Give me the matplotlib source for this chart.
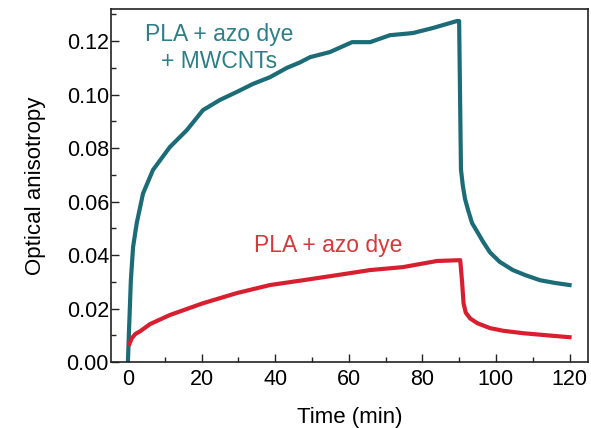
import matplotlib
matplotlib.use("Agg")
import matplotlib.pyplot as plt
from matplotlib.ticker import MultipleLocator

plt.rcParams['font.family'] = ['Liberation Sans', 'DejaVu Sans']

# Data
teal_t = [0, 0.3, 0.8, 1.4, 2.4, 4.1, 6.8, 11.4, 16, 20.4, 25, 29.6, 34, 38.6,
          43.2, 46.7, 49.5, 54.9, 60.9, 65.8, 71.2, 77.4, 82.9, 89.4, 90.0,
          90.5, 91.0, 91.6, 92.4, 93.5, 94.8, 96.5, 98.4, 101, 104.6, 108,
          112, 116, 120]
teal_y = [0, 0.012, 0.0306, 0.043, 0.052, 0.063, 0.0718, 0.0804, 0.0867,
          0.0942, 0.098, 0.101, 0.104, 0.1065, 0.110, 0.112, 0.114, 0.1159,
          0.1196, 0.1196, 0.1222, 0.1230, 0.1249, 0.1275, 0.1275, 0.072,
          0.066, 0.061, 0.057, 0.052, 0.049, 0.045, 0.041, 0.0375, 0.0344,
          0.0325, 0.0306, 0.0296, 0.0288]

red_t = [0.4, 1.1, 2, 3.3, 6, 11.4, 20.4, 29.6, 38.6, 47.6, 56.8, 65.8, 74.7,
         84, 90.3, 90.8, 91.2, 91.8, 93, 95, 98.4, 102, 107.4, 114, 120]
red_y = [0.0068, 0.0090, 0.0105, 0.0115, 0.0142, 0.0176, 0.022, 0.0258,
         0.0288, 0.0306, 0.0325, 0.0344, 0.0355, 0.0378, 0.0381, 0.030,
         0.022, 0.0185, 0.0163, 0.0145, 0.0127, 0.0117, 0.0108, 0.0100,
         0.0093]

x_ticks = [0, 20, 40, 60, 80, 100, 120]
y_ticks = [0.00, 0.02, 0.04, 0.06, 0.08, 0.10, 0.12]

teal = '#1b6c76'
red = '#d81f30'

fig = plt.figure(figsize=(5.91, 4.28), dpi=100)
ax = fig.add_axes([0.1878, 0.154, 0.807, 0.825])

ax.plot(teal_t, teal_y, color=teal, lw=3.0, solid_joinstyle='round')
ax.plot(red_t, red_y, color=red, lw=3.0, solid_joinstyle='round')

ax.set_xlim(-4.6, 125)
ax.set_ylim(0, 0.132)
ax.set_xticks(x_ticks)
ax.set_yticks(y_ticks)
ax.set_yticklabels([f"{v:.2f}" for v in y_ticks])
ax.xaxis.set_minor_locator(MultipleLocator(10))
ax.yaxis.set_minor_locator(MultipleLocator(0.01))
ax.tick_params(which='both', direction='in', top=False, right=False,
               labelsize=15.5, width=1.0, color='#222222')
ax.tick_params(axis='y', which='major', pad=1.5)
ax.tick_params(axis='x', which='major', pad=5)
ax.tick_params(which='major', length=6)
ax.tick_params(which='minor', length=3.5)
for s in ax.spines.values():
    s.set_linewidth(1.2)
    s.set_color('#222222')

ax.set_xlabel('Time (min)', fontsize=16, labelpad=12)
ax.set_ylabel('Optical anisotropy', fontsize=16, labelpad=15)

ax.text(24.7, 0.1175, 'PLA + azo dye\n+ MWCNTs', color='#2c7f86', fontsize=16.5,
        ha='center', va='center', linespacing=1.2)
ax.text(54.3, 0.0434, 'PLA + azo dye', color='#d23a3c', fontsize=16.5,
        ha='center', va='center')

fig.savefig('out.png', dpi=100)
